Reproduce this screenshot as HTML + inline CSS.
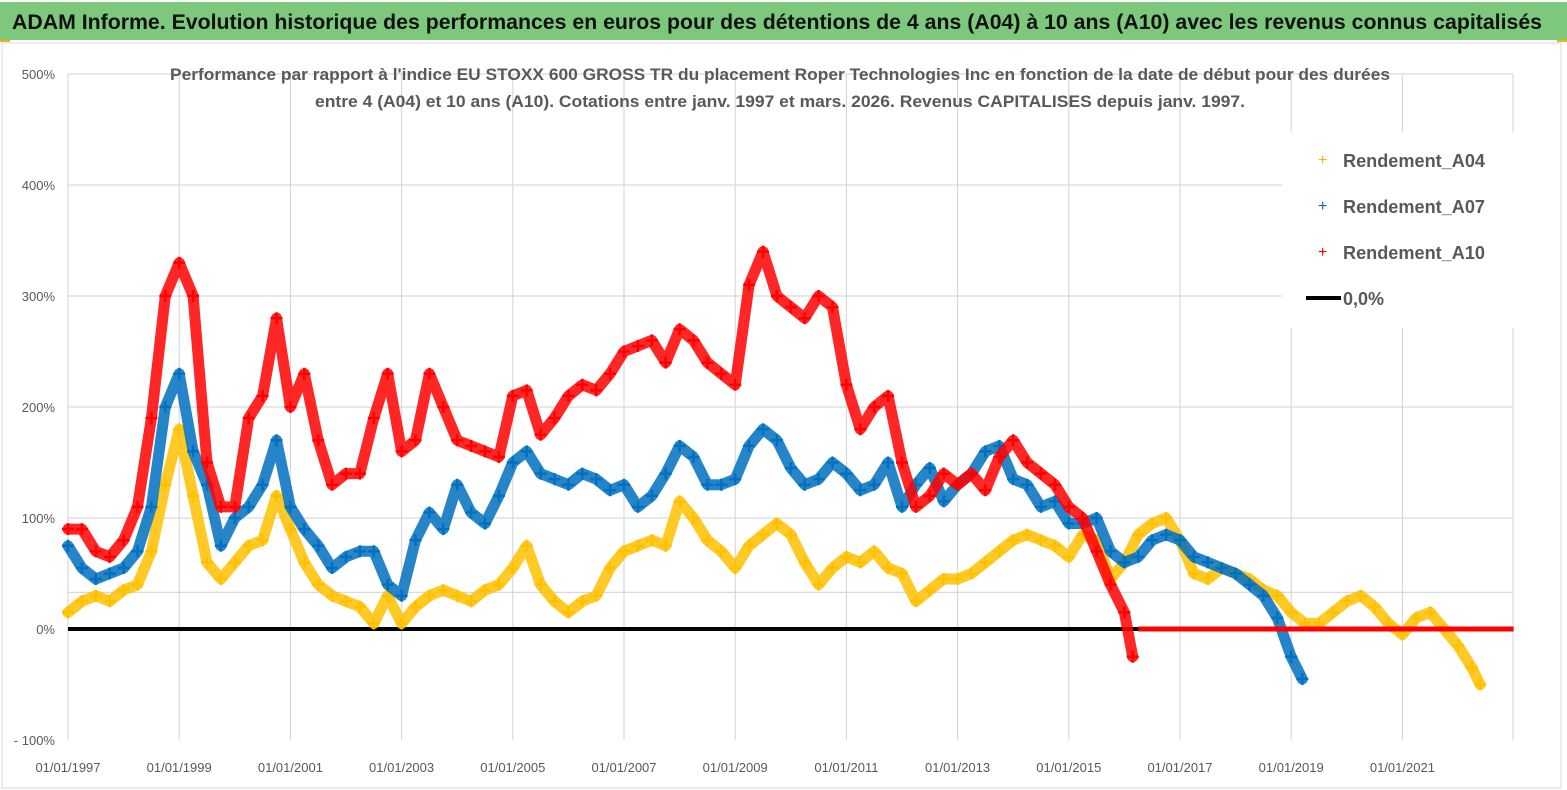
<!DOCTYPE html>
<html><head><meta charset="utf-8"><style>
html,body{margin:0;padding:0;background:#fff;}
svg{display:block;font-family:"Liberation Sans",sans-serif;}
</style></head><body>
<svg id="chart" width="1567" height="790" viewBox="0 0 1567 790" xmlns="http://www.w3.org/2000/svg">
<rect x="0" y="0" width="1567" height="790" fill="#fff"/>
<rect x="0" y="2" width="1567" height="38" fill="#7dc87c"/>
<text x="12" y="29" font-size="21" font-weight="bold" fill="#111" textLength="1530" lengthAdjust="spacingAndGlyphs">ADAM Informe. Evolution historique des performances en euros pour des détentions de 4 ans (A04) à 10 ans (A10) avec les revenus connus capitalisés</text>
<rect x="0" y="40" width="10" height="2" fill="#f0b400"/>
<rect x="1557" y="40" width="10" height="2" fill="#f0b400"/>
<rect x="2" y="43" width="1559" height="745" fill="none" stroke="#d9d9d9"/>
<g id="grid"></g>
<g id="axes"></g>
<text x="780" y="80" font-size="16.5" font-weight="bold" fill="#595959" text-anchor="middle" textLength="1220" lengthAdjust="spacingAndGlyphs">Performance par rapport à l'indice EU STOXX 600 GROSS TR  du placement Roper Technologies Inc en fonction de la date de début pour des durées</text>
<text x="780" y="107" font-size="16.5" font-weight="bold" fill="#595959" text-anchor="middle" textLength="930" lengthAdjust="spacingAndGlyphs">entre 4 (A04) et 10 ans (A10). Cotations entre janv. 1997 et mars. 2026. Revenus CAPITALISES depuis janv. 1997.</text>
<g id="series"></g>
<g id="legend">
<rect x="1282" y="132" width="270" height="196" fill="#fff"/>
<text x="1318" y="165" font-size="16" fill="#f5b800">+</text>
<text x="1343" y="167" font-size="18" font-weight="bold" fill="#595959" textLength="142" lengthAdjust="spacingAndGlyphs">Rendement_A04</text>
<text x="1318" y="211" font-size="16" fill="#0070c0">+</text>
<text x="1343" y="213" font-size="18" font-weight="bold" fill="#595959" textLength="142" lengthAdjust="spacingAndGlyphs">Rendement_A07</text>
<text x="1318" y="257" font-size="16" fill="#ff0000">+</text>
<text x="1343" y="259" font-size="18" font-weight="bold" fill="#595959" textLength="142" lengthAdjust="spacingAndGlyphs">Rendement_A10</text>
<line x1="1306" y1="298" x2="1341" y2="298" stroke="#000" stroke-width="4"/>
<text x="1343" y="305" font-size="18" font-weight="bold" fill="#595959">0,0%</text>
</g>
</svg>
<script>
const yTicks=[500,400,300,200,100,0,-100];
const yTickLabels=["500%","400%","300%","200%","100%","0%","- 100%"];
const xTickYears=[1997,1999,2001,2003,2005,2007,2009,2011,2013,2015,2017,2019,2021];
const xTickLabels=["01/01/1997","01/01/1999","01/01/2001","01/01/2003","01/01/2005","01/01/2007","01/01/2009","01/01/2011","01/01/2013","01/01/2015","01/01/2017","01/01/2019","01/01/2021"];
const a04Years=[1997,1997.25,1997.5,1997.75,1998,1998.25,1998.5,1998.75,1999,1999.25,1999.5,1999.75,2000,2000.25,2000.5,2000.75,2001,2001.25,2001.5,2001.75,2002,2002.25,2002.5,2002.75,2003,2003.25,2003.5,2003.75,2004,2004.25,2004.5,2004.75,2005,2005.25,2005.5,2005.75,2006,2006.25,2006.5,2006.75,2007,2007.25,2007.5,2007.75,2008,2008.25,2008.5,2008.75,2009,2009.25,2009.5,2009.75,2010,2010.25,2010.5,2010.75,2011,2011.25,2011.5,2011.75,2012,2012.25,2012.5,2012.75,2013,2013.25,2013.5,2013.75,2014,2014.25,2014.5,2014.75,2015,2015.25,2015.5,2015.75,2016,2016.25,2016.5,2016.75,2017,2017.25,2017.5,2017.75,2018,2018.25,2018.5,2018.75,2019,2019.25,2019.5,2019.75,2020,2020.25,2020.5,2020.75,2021,2021.25,2021.5,2021.75,2022,2022.25,2022.4];
const a04Values=[15,25,30,25,35,40,70,130,180,120,60,45,60,75,80,120,90,60,40,30,25,20,5,30,5,20,30,35,30,25,35,40,55,75,40,25,15,25,30,55,70,75,80,75,115,100,80,70,55,75,85,95,85,60,40,55,65,60,70,55,50,25,35,45,45,50,60,70,80,85,80,75,65,85,80,45,60,85,95,100,80,50,45,55,50,45,35,30,15,5,5,15,25,30,20,5,-5,10,15,0,-15,-35,-50];
const a07Years=[1997,1997.25,1997.5,1997.75,1998,1998.25,1998.5,1998.75,1999,1999.25,1999.5,1999.75,2000,2000.25,2000.5,2000.75,2001,2001.25,2001.5,2001.75,2002,2002.25,2002.5,2002.75,2003,2003.25,2003.5,2003.75,2004,2004.25,2004.5,2004.75,2005,2005.25,2005.5,2005.75,2006,2006.25,2006.5,2006.75,2007,2007.25,2007.5,2007.75,2008,2008.25,2008.5,2008.75,2009,2009.25,2009.5,2009.75,2010,2010.25,2010.5,2010.75,2011,2011.25,2011.5,2011.75,2012,2012.25,2012.5,2012.75,2013,2013.25,2013.5,2013.75,2014,2014.25,2014.5,2014.75,2015,2015.25,2015.5,2015.75,2016,2016.25,2016.5,2016.75,2017,2017.25,2017.5,2017.75,2018,2018.25,2018.5,2018.75,2019,2019.2];
const a07Values=[75,55,45,50,55,70,110,200,230,160,130,75,100,110,130,170,110,90,75,55,65,70,70,40,30,80,105,90,130,105,95,120,150,160,140,135,130,140,135,125,130,110,120,140,165,155,130,130,135,165,180,170,145,130,135,150,140,125,130,150,110,130,145,115,130,140,160,165,135,130,110,115,95,95,100,70,60,65,80,85,80,65,60,55,50,40,30,10,-25,-45];
const a10Years=[1997,1997.25,1997.5,1997.75,1998,1998.25,1998.5,1998.75,1999,1999.25,1999.5,1999.75,2000,2000.25,2000.5,2000.75,2001,2001.25,2001.5,2001.75,2002,2002.25,2002.5,2002.75,2003,2003.25,2003.5,2003.75,2004,2004.25,2004.5,2004.75,2005,2005.25,2005.5,2005.75,2006,2006.25,2006.5,2006.75,2007,2007.25,2007.5,2007.75,2008,2008.25,2008.5,2008.75,2009,2009.25,2009.5,2009.75,2010,2010.25,2010.5,2010.75,2011,2011.25,2011.5,2011.75,2012,2012.25,2012.5,2012.75,2013,2013.25,2013.5,2013.75,2014,2014.25,2014.5,2014.75,2015,2015.25,2015.5,2015.75,2016,2016.15];
const a10Values=[90,90,70,65,80,110,190,300,330,300,150,110,110,190,210,280,200,230,170,130,140,140,190,230,160,170,230,200,170,165,160,155,210,215,175,190,210,220,215,230,250,255,260,240,270,260,240,230,220,310,340,300,290,280,300,290,220,180,200,210,150,110,120,140,130,140,125,155,170,150,140,130,110,100,70,40,15,-25];
const a10ZeroStart=2016.25, a10ZeroEnd=2023.0;

const NS="http://www.w3.org/2000/svg";
const X0=68,PXY=55.6,Y0=629,PXV=1.11,PLOT_TOP=74,PLOT_BOT=740,PLOT_RIGHT=1513;
function xs(y){return X0+(y-1997)*PXY;}
function ys(v){return Y0-v*PXV;}
function mk(tag,attrs,parent){const e=document.createElementNS(NS,tag);for(const k in attrs)e.setAttribute(k,attrs[k]);parent.appendChild(e);return e;}
const grid=document.getElementById('grid'),axes=document.getElementById('axes'),series=document.getElementById('series');
yTicks.forEach((v,i)=>{
  if(v!==0&&v!==-100){const l=mk('line',{x1:X0,x2:PLOT_RIGHT,y1:ys(v),y2:ys(v),stroke:'#d9d9d9','stroke-width':1.2},grid);
  
  }
  const t=mk('text',{x:55,y:ys(v)+5,'font-size':13,fill:'#595959','text-anchor':'end'},axes);
  
  
  t.textContent=yTickLabels[i];
});
const g33=mk('line',{x1:X0,x2:PLOT_RIGHT,y1:ys(33),y2:ys(33),stroke:'#d9d9d9','stroke-width':1.2},grid);


xTickYears.forEach((yr,i)=>{
  const l=mk('line',{x1:xs(yr),x2:xs(yr),y1:PLOT_TOP,y2:PLOT_BOT,stroke:'#d9d9d9','stroke-width':1.2},grid);
  
  
  const t=mk('text',{x:xs(yr),y:772,'font-size':13,fill:'#595959','text-anchor':'middle'},axes);
  
  
  t.textContent=xTickLabels[i];
});
const rb=mk('line',{x1:PLOT_RIGHT,x2:PLOT_RIGHT,y1:PLOT_TOP,y2:PLOT_BOT,stroke:'#d9d9d9','stroke-width':1.2},grid);


const zl=mk('line',{x1:X0,x2:PLOT_RIGHT,y1:ys(0),y2:ys(0),stroke:'#000','stroke-width':4},series);


function drawSeries(years,vals,color,name){
  const g=mk('g',{},series);
  
  
  const pts=years.map((y,i)=>xs(y).toFixed(1)+','+ys(vals[i]).toFixed(1)).join(' ');
  mk('polyline',{points:pts,fill:'none',stroke:color,'stroke-width':11,'stroke-linejoin':'round','stroke-linecap':'round','stroke-opacity':0.85},g);
  years.forEach((y,i)=>{
    const cx=xs(y),cy=ys(vals[i]);
    const p=mk('path',{d:`M${cx-6},${cy}h12M${cx},${cy-6}v12`,stroke:color,'stroke-width':2.5,fill:'none'},g);
    
    
  });
}
drawSeries(a04Years,a04Values,'#ffc000','series-a04');
drawSeries(a07Years,a07Values,'#0070c0','series-a07');
drawSeries(a10Years,a10Values,'#ff0000','series-a10');
const rz=mk('line',{x1:xs(a10ZeroStart),x2:xs(a10ZeroEnd),y1:ys(0),y2:ys(0),stroke:'#ff0000','stroke-width':5},series);


</script>
</body></html>
